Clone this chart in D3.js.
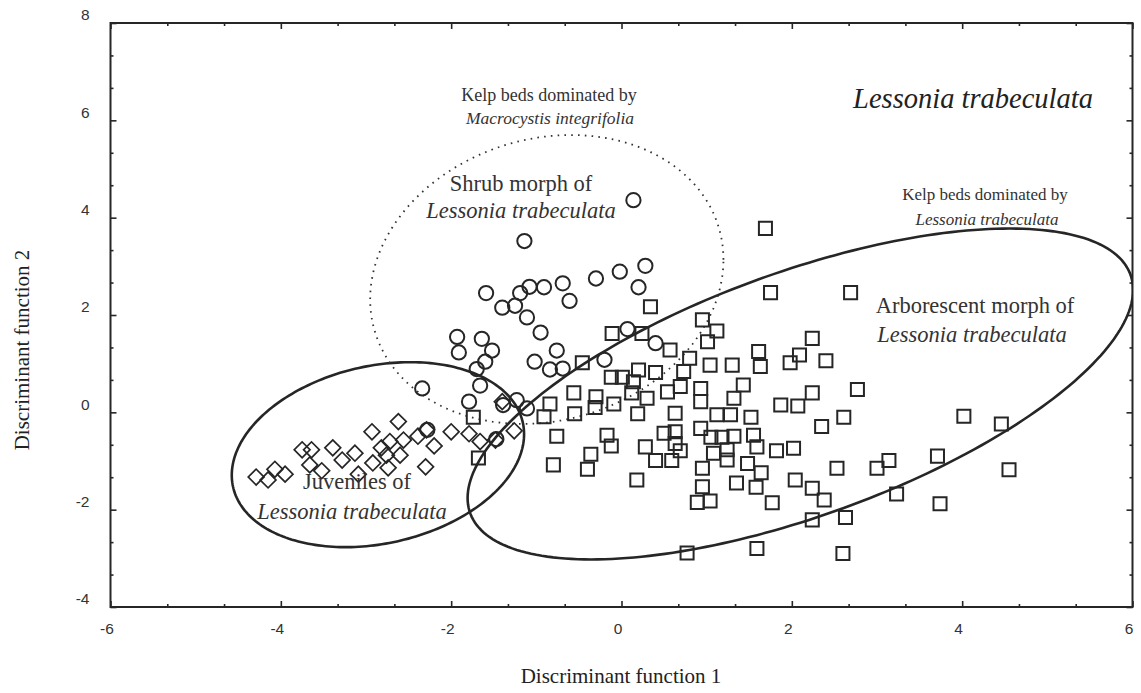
<!DOCTYPE html>
<html><head><meta charset="utf-8">
<script src="https://cdn.jsdelivr.net/npm/d3@7"></script>
<style>body{margin:0;background:#fff} svg{display:block}</style>
</head><body><svg id="chart" width="1141" height="693"></svg>
<script>
const xTickValues = [-6,-4,-2,0,2,4,6];
const yTickValues = [-4,-2,0,2,4,6,8];

const juveniles = [
[-4.29,-1.33],[-4.15,-1.39],[-4.07,-1.17],[-3.95,-1.27],
[-3.75,-0.77],[-3.64,-0.77],[-3.66,-1.08],[-3.52,-1.20],
[-3.39,-0.73],[-3.28,-0.98],[-3.13,-0.84],[-3.09,-1.27],
[-2.93,-0.40],[-2.92,-1.04],[-2.82,-0.73],[-2.76,-0.88],[-2.72,-0.60],[-2.74,-1.14],
[-2.62,-0.19],[-2.60,-0.88],[-2.56,-0.57],[-2.39,-0.49],[-2.29,-0.36],[-2.20,-0.69],[-2.30,-1.12],
[-2.00,-0.40],[-1.79,-0.44],[-1.66,-0.60],[-1.48,-0.57],[-1.26,-0.38],[-1.40,0.22]
];

const shrubMorph = [
[0.14,4.36],[-1.14,3.52],[0.28,3.01],[-0.02,2.89],[-0.30,2.75],[0.20,2.57],
[-1.59,2.45],[-1.19,2.45],[-1.08,2.58],[-0.91,2.57],[-0.69,2.65],[-0.61,2.29],
[-1.40,2.15],[-1.25,2.19],[-1.11,1.95],[-0.95,1.64],[-1.93,1.55],[-1.91,1.23],
[-1.64,1.51],[-1.52,1.27],[-1.60,1.04],[-1.70,0.89],[-1.66,0.55],[-1.79,0.22],
[-0.76,1.27],[-1.02,1.04],[-0.84,0.88],[-0.69,0.90],[0.07,1.71],[0.40,1.42],
[-0.20,1.08],[-1.23,0.25],[-1.11,0.08],[-2.34,0.49],[-2.28,-0.36],[-1.47,-0.55],[-1.39,0.15]
];

const arborescentMorph = [
[-1.74,-0.10],[-1.68,-0.94],[-0.91,-0.09],[-0.84,0.17],[-0.76,-0.49],[-0.80,-1.08],
[-0.56,0.40],[-0.55,-0.03],[-0.46,1.02],[-0.30,0.32],[-0.31,0.10],[-0.09,0.17],
[-0.17,-0.47],[-0.12,-0.69],[-0.36,-0.86],[-0.40,-1.17],[-0.11,1.62],[0.34,2.17],
[0.24,1.62],[-0.12,0.72],[0.01,0.72],[0.20,0.87],[0.40,0.82],[0.14,0.63],[0.12,0.40],
[0.30,0.29],[0.19,-0.03],[0.54,0.42],[0.69,0.53],[0.93,0.49],[0.93,0.22],[0.57,1.28],
[0.80,1.11],[0.73,0.84],[0.95,1.90],[1.12,1.67],[1.01,1.45],[1.04,0.97],[1.30,0.97],
[1.43,0.56],[1.32,0.29],[1.61,1.25],[1.63,0.94],[1.98,1.02],[2.09,1.18],[2.24,1.52],
[2.40,1.06],[1.69,3.78],[1.75,2.46],[2.69,2.46],[0.63,-0.02],[1.12,-0.05],[1.28,-0.05],
[1.52,-0.10],[1.87,0.15],[2.07,0.13],[2.24,0.40],[2.77,0.47],[2.61,-0.10],[2.35,-0.29],
[4.02,-0.08],[4.46,-0.24],[0.50,-0.43],[0.63,-0.40],[0.63,-0.64],[0.69,-0.79],[0.93,-0.33],
[1.05,-0.51],[1.18,-0.51],[1.32,-0.49],[1.55,-0.47],[1.59,-0.71],[1.82,-0.79],[2.02,-0.74],
[0.28,-0.71],[0.40,-0.99],[0.59,-0.99],[1.08,-0.84],[1.24,-0.77],[1.24,-0.98],[1.48,-1.05],
[0.95,-1.15],[1.64,-1.24],[1.35,-1.45],[1.58,-1.54],[0.95,-1.53],[0.89,-1.85],[1.04,-1.82],
[1.77,-1.86],[0.18,-1.39],[2.04,-1.39],[2.24,-1.56],[2.38,-1.80],[2.24,-2.21],[2.63,-2.16],
[2.53,-1.15],[3.00,-1.15],[3.14,-0.99],[3.71,-0.90],[4.55,-1.18],[3.23,-1.68],[3.74,-1.88],
[2.60,-2.90],[1.59,-2.80],[0.77,-2.89]
];

// ellipses: [centre x, centre y, ux, uy, vx, vy]  (x = cx + ux cos t + vx sin t, y = cy + uy cos t + vy sin t)
const juvenileEllipse    = [-2.86,-0.87,1.716,0.421,0,1.853];
const arborescentEllipse = [2.10,0.377,3.907,2.137,0,2.644];
const macrocystisEllipse = [-0.877,2.73,2.074,0.407,0,2.940];

const svg = d3.select("#chart");
const x = d3.scaleLinear().domain([-6,6]).range([110.5,1132.5]);
const y = d3.scaleLinear().domain([-4,8]).range([607,23]);
const ink = "#262626";
const fmt = d => String(d);

svg.append("rect").attr("width",1141).attr("height",693).attr("fill","#fff");

svg.append("defs").append("clipPath").attr("id","plotclip")
  .append("rect").attr("x",x(-6)).attr("y",y(8)).attr("width",x(6)-x(-6)).attr("height",y(-4)-y(8));

// minor ticks every 2/3
const xMinor = d3.range(0,19).map(i => -6 + i*2/3).filter(v => Math.abs(Math.round(v/2)*2 - v) > 1e-6);
const yMinor = d3.range(0,19).map(i => -4 + i*2/3).filter(v => Math.abs(Math.round(v/2)*2 - v) > 1e-6);

function styleAxis(g){
  g.select(".domain").remove();
  g.selectAll(".tick line").attr("stroke",ink).attr("stroke-width",1.6);
  g.selectAll(".tick text").attr("fill","#333").attr("font-family","'Liberation Sans', Arial, sans-serif").attr("font-size",15.5);
}
// bottom
svg.append("g").attr("transform",`translate(0,${y(-4)})`)
  .call(d3.axisBottom(x).tickValues(xTickValues).tickSize(-6).tickPadding(16).tickFormat(fmt))
  .call(styleAxis).call(g=>g.selectAll(".tick text").attr("dx",-4));
svg.append("g").attr("transform",`translate(0,${y(-4)})`)
  .call(d3.axisBottom(x).tickValues(xMinor).tickSize(-3).tickFormat(""))
  .call(styleAxis);
// top
svg.append("g").attr("transform",`translate(0,${y(8)})`)
  .call(d3.axisTop(x).tickValues(xTickValues).tickSize(-6).tickFormat("")).call(styleAxis);
svg.append("g").attr("transform",`translate(0,${y(8)})`)
  .call(d3.axisTop(x).tickValues(xMinor).tickSize(-3).tickFormat("")).call(styleAxis);
// left
svg.append("g").attr("transform",`translate(${x(-6)},0)`)
  .call(d3.axisLeft(y).tickValues(yTickValues).tickSize(-6).tickPadding(21).tickFormat(fmt))
  .call(styleAxis).call(g=>g.selectAll(".tick text").attr("y",-8));
svg.append("g").attr("transform",`translate(${x(-6)},0)`)
  .call(d3.axisLeft(y).tickValues(yMinor).tickSize(-3).tickFormat("")).call(styleAxis);
// right
svg.append("g").attr("transform",`translate(${x(6)},0)`)
  .call(d3.axisRight(y).tickValues(yTickValues).tickSize(-6).tickFormat("")).call(styleAxis);
svg.append("g").attr("transform",`translate(${x(6)},0)`)
  .call(d3.axisRight(y).tickValues(yMinor).tickSize(-3).tickFormat("")).call(styleAxis);

// frame
svg.append("rect").attr("x",x(-6)).attr("y",y(8)).attr("width",x(6)-x(-6)).attr("height",y(-4)-y(8))
  .attr("fill","none").attr("stroke",ink).attr("stroke-width",2);

// ellipses
function ellipsePoints(e){
  const [cx,cy,ux,uy,vx,vy] = e;
  return d3.range(0,240).map(i => { const t = i/240*2*Math.PI;
    return [cx + ux*Math.cos(t) + vx*Math.sin(t), cy + uy*Math.cos(t) + vy*Math.sin(t)]; });
}
const line = d3.line().x(d=>x(d[0])).y(d=>y(d[1])).curve(d3.curveLinearClosed);
const eg = svg.append("g").attr("clip-path","url(#plotclip)");
eg.append("path").attr("d",line(ellipsePoints(juvenileEllipse))).attr("fill","none").attr("stroke",ink).attr("stroke-width",2.6);
eg.append("path").attr("d",line(ellipsePoints(arborescentEllipse))).attr("fill","none").attr("stroke",ink).attr("stroke-width",2.6);
eg.append("path").attr("d",line(ellipsePoints(macrocystisEllipse))).attr("fill","none").attr("stroke","#333")
  .attr("stroke-width",1.8).attr("stroke-dasharray","1.6,5.2");

// markers
const mg = svg.append("g").attr("clip-path","url(#plotclip)");
mg.selectAll("path.sq").data(arborescentMorph).join("path").attr("class","sq")
  .attr("d",d3.symbol(d3.symbolSquare,170)())
  .attr("transform",d=>`translate(${x(d[0])},${y(d[1])})`)
  .attr("fill","none").attr("stroke",ink).attr("stroke-width",2);
mg.selectAll("path.ci").data(shrubMorph).join("path").attr("class","ci")
  .attr("d",d3.symbol(d3.symbolCircle,160)())
  .attr("transform",d=>`translate(${x(d[0])},${y(d[1])})`)
  .attr("fill","none").attr("stroke",ink).attr("stroke-width",2);
mg.selectAll("path.di").data(juveniles).join("path").attr("class","di")
  .attr("d",d3.symbol(d3.symbolSquare,125)())
  .attr("transform",d=>`translate(${x(d[0])},${y(d[1])}) rotate(45)`)
  .attr("fill","none").attr("stroke",ink).attr("stroke-width",1.7);

// annotations
const serif = "'Liberation Serif','Times New Roman',serif";
function label(txt, px, py, size, italic, color){
  svg.append("text").attr("x",px).attr("y",py).attr("text-anchor","middle")
    .attr("font-family",serif).attr("font-size",size).attr("font-style",italic?"italic":"normal")
    .attr("fill",color||"#333").text(txt);
}
label("Lessonia trabeculata", 973, 108, 28.5, true, "#222");
label("Kelp beds dominated  by", 549, 101, 18, false);
label("Macrocystis integrifolia", 550, 124, 17.5, true);
label("Shrub morph of", 521, 191, 22.5, false);
label("Lessonia trabeculata", 521, 218, 22.5, true);
label("Kelp beds dominated by", 985, 200, 17, false);
label("Lessonia trabeculata", 987, 225, 17, true);
label("Arborescent morph of", 975, 313, 22.5, false);
label("Lessonia trabeculata", 972, 342, 22.5, true);
label("Juveniles of", 357, 489, 22.5, false);
label("Lessonia trabeculata", 352, 519, 22.5, true);

// axis titles
svg.append("text").attr("x",621).attr("y",683).attr("text-anchor","middle")
  .attr("font-family",serif).attr("font-size",21).attr("fill","#222").text("Discriminant function 1");
svg.append("text").attr("transform","translate(29,350) rotate(-90)").attr("text-anchor","middle")
  .attr("font-family",serif).attr("font-size",21).attr("fill","#222").text("Discriminant function 2");
</script></body></html>
